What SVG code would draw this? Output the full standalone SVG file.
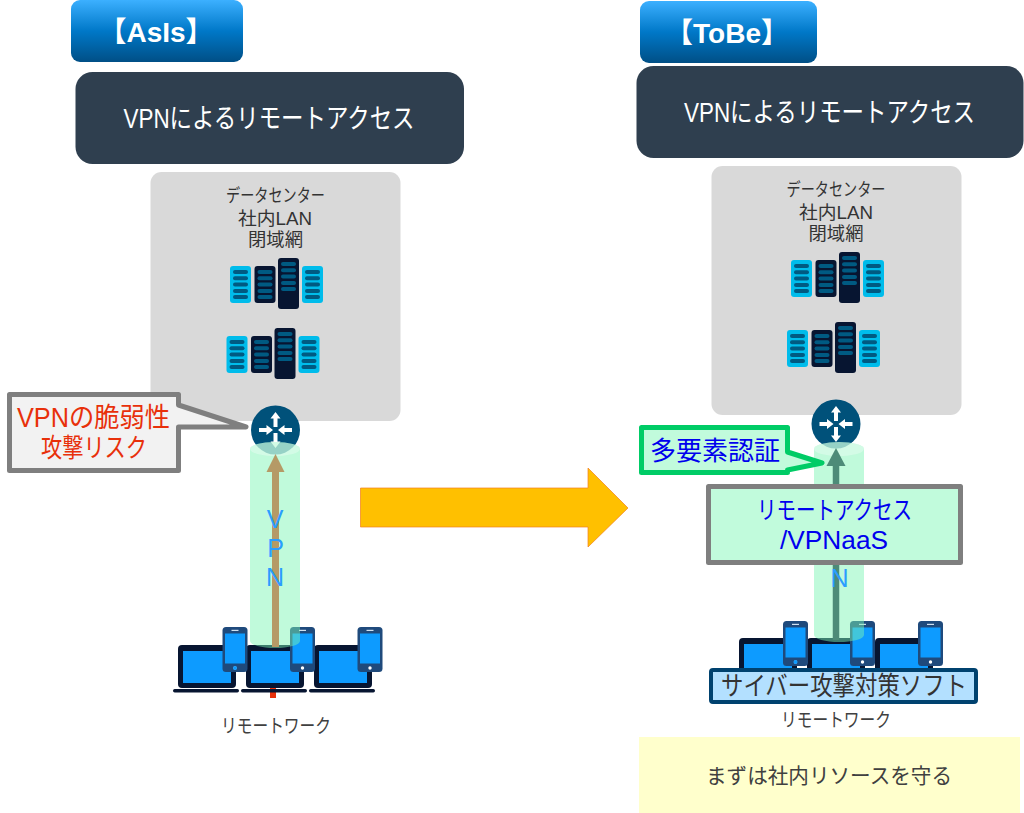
<svg xmlns="http://www.w3.org/2000/svg" width="1024" height="813" viewBox="0 0 1024 813">
<style>
text{font-family:"Liberation Sans","Noto Sans CJK JP",sans-serif;text-anchor:middle}
.hd{font-size:28px;font-weight:bold;fill:#fff}
.ti{font-size:27px;fill:#fff}
.dc{font-size:18px;fill:#333}
.rw{font-size:19px;fill:#404040}
.vl{font-size:25px;fill:#2a9dff}
.dark{fill:#2f3f4f}
.gray{fill:#d9d9d9}
.col{fill:#7cf5b4;opacity:.48}
.colt{fill:#e2fcef;opacity:.55}
.bl{fill:#0000ee}
</style>
<defs>
<linearGradient id="g" x1="0" y1="0" x2="0" y2="1"><stop offset="0" stop-color="#3cb0ff"/><stop offset=".5" stop-color="#0078c8"/><stop offset="1" stop-color="#004f86"/></linearGradient>
<g id="bars"><rect x="3" y="4" width="15" height="4" rx="2" fill="#005a82"/><rect x="3" y="10.300000000000001" width="15" height="4" rx="2" fill="#005a82"/><rect x="3" y="16.6" width="15" height="4" rx="2" fill="#005a82"/><rect x="3" y="22.9" width="15" height="4" rx="2" fill="#005a82"/><rect x="3" y="29" width="15" height="4" rx="2" fill="#005a82"/></g>
<g id="servers">
<rect x="0" y="8" width="21" height="37" rx="3" fill="#00bceb"/><use href="#bars" y="8"/>
<rect x="24.500" y="8" width="21" height="37" rx="3" fill="#071531"/><use href="#bars" x="24.500" y="8"/>
<rect x="48" y="0" width="21" height="51" rx="3" fill="#071531"/><use href="#bars" x="48"/>
<rect x="72" y="8" width="21" height="37" rx="3" fill="#00bceb"/><use href="#bars" x="72" y="8"/>
</g>
<g id="router">
<circle r="24.500" fill="#00517a"/>
<g fill="#fff" stroke="none">
<path d="M0-18l5 6.500h-3v8.500h-4v-8.500h-3z"/>
<path d="M0 18l5-6.500h-3v-8.500h-4v8.500h-3z"/>
<path d="M-2.500 0l-6.500-5v3h-7.500v4h7.500v3z"/>
<path d="M2.500 0l6.500-5v3h7.500v4h-7.500v3z"/>
</g>
</g>
<g id="laptop">
<rect x="0" y="0" width="58" height="43" rx="4" fill="#071531"/>
<rect x="5" y="6" width="48" height="32" fill="#0d9bff"/>
<rect x="-5" y="44" width="66" height="3.500" rx="1.700" fill="#071531"/>
</g>
<g id="phone">
<rect x="0" y="0" width="25" height="45" rx="3.500" fill="#1f4a7c"/>
<rect x="2.500" y="6.500" width="20" height="30" fill="#0d9bff"/>
<rect x="9" y="2.800" width="7" height="1.200" fill="#cfe0f0"/>
<circle cx="12.500" cy="41" r="1.700" fill="#fff"/>
</g>
</defs>

<g id="asis-header"><rect x="71" y="0" width="172" height="62" rx="9" fill="url(#g)"/><text class="hd" x="156" y="42">【AsIs】</text></g>
<g id="asis-title"><rect x="75.500" y="72" width="388.500" height="92" rx="17" class="dark"/><text class="ti" transform="translate(269 128) scale(.831 1)">VPNによるリモートアクセス</text></g>
<g id="asis-dc"><rect x="150.500" y="172" width="250" height="249" rx="11" class="gray"/>
<text class="dc" x="275.500" y="202" textLength="99" lengthAdjust="spacingAndGlyphs">データセンター</text><text class="dc" x="275" y="225" textLength="74" lengthAdjust="spacingAndGlyphs">社内LAN</text><text class="dc" x="275.500" y="246" textLength="55" lengthAdjust="spacingAndGlyphs">閉域網</text>
<use href="#servers" x="230" y="258"/><use href="#servers" x="226.500" y="328"/></g>
<g id="tobe-dc"><rect x="711.500" y="166" width="250" height="249" rx="11" class="gray"/>
<text class="dc" x="836" y="196" textLength="99" lengthAdjust="spacingAndGlyphs">データセンター</text><text class="dc" x="836" y="219" textLength="74" lengthAdjust="spacingAndGlyphs">社内LAN</text><text class="dc" x="836" y="240" textLength="55" lengthAdjust="spacingAndGlyphs">閉域網</text>
<use href="#servers" x="791" y="252"/><use href="#servers" x="787" y="322"/></g>
<g id="asis-devices">
<rect x="270" y="688" width="6" height="10" fill="#e8300a"/>
<use href="#laptop" x="178" y="645"/><use href="#laptop" x="246" y="645"/><use href="#laptop" x="314" y="645"/>
<use href="#phone" x="222.500" y="627"/><use href="#phone" x="290" y="627"/><use href="#phone" x="357.500" y="627"/>
<circle cx="235" cy="668" r="2" fill="#0d9bff"/>
</g>
<g id="asis-router"><use href="#router" x="275.500" y="430"/></g>
<g id="tobe-router"><use href="#router" x="836" y="424"/></g>
<g id="tobe-devices">
<use href="#laptop" x="739" y="638"/><use href="#laptop" x="807" y="638"/><use href="#laptop" x="875" y="638"/>
<use href="#phone" x="783" y="621"/><use href="#phone" x="850" y="621"/><use href="#phone" x="918" y="621"/>
<circle cx="795.500" cy="662" r="2" fill="#0d9bff"/>
</g>
<g id="connectors">
<path class="col" d="M250 449a25 7 0 0 1 50 0V641a25 7 0 0 1-50 0z"/>
<ellipse class="colt" cx="275" cy="449" rx="25" ry="7"/>
<path d="M275.500 647V470" stroke="#b59a66" stroke-width="7" fill="none"/>
<path d="M275.500 454l9 18h-18z" fill="#b59a66"/>
<path class="col" d="M814 449a25 7 0 0 1 50 0V635a25 7 0 0 1-50 0z"/>
<ellipse class="colt" cx="839" cy="449" rx="25" ry="7"/>
<path d="M836 640V464" stroke="#4d8b78" stroke-width="6.500" fill="none"/>
<path d="M836 448l9.500 18h-19z" fill="#4d8b78"/>
</g>
<g id="vpn-label"><text class="vl" x="275" y="528">V</text><text class="vl" x="275.500" y="557">P</text><text class="vl" x="275" y="586">N</text></g>
<g id="asis-risk">
<path d="M9.500 394.500H178.500V405L246 427H178.500V470.500H9.500z" fill="#f2f2f2" stroke="#7f7f7f" stroke-width="5" stroke-linejoin="round"/>
<text x="93.500" y="427" font-size="27" fill="#e8300a" textLength="153" lengthAdjust="spacingAndGlyphs">VPNの脆弱性</text><text x="94" y="457" font-size="26" fill="#e8300a" textLength="106" lengthAdjust="spacingAndGlyphs">攻撃リスク</text>
</g>
<text class="rw" x="276" y="733" textLength="110" lengthAdjust="spacingAndGlyphs" id="asis-remote">リモートワーク</text>

<g id="arrow"><path d="M360.500 488H588V468L628 508L588 547V527H360.500z" fill="#ffc000" stroke="#f08020" stroke-width=".7"/></g>

<g id="tobe-header"><rect x="640" y="1" width="177" height="62" rx="9" fill="url(#g)"/><text class="hd" x="727" y="43">【ToBe】</text></g>
<g id="tobe-title"><rect x="636.500" y="66" width="387" height="92" rx="17" class="dark"/><text class="ti" transform="translate(829.500 122) scale(.831 1)">VPNによるリモートアクセス</text></g>
<g id="tobe-mfa">
<path d="M641.500 427.500H787.500V452L822 463L787.500 470V472.500H641.500z" fill="#c1fbdc" stroke="#00cc66" stroke-width="5" stroke-linejoin="round"/>
<text x="715" y="460" font-size="26" class="bl" textLength="130" lengthAdjust="spacingAndGlyphs">多要素認証</text>
</g>
<g id="tobe-vpnaas">
<rect x="708.500" y="486.500" width="252" height="76" fill="#c1fbdc" stroke="#7f7f7f" stroke-width="5" stroke-linejoin="round"/>
<text x="834.500" y="519" font-size="25" class="bl" textLength="155" lengthAdjust="spacingAndGlyphs">リモートアクセス</text><text x="834" y="549" font-size="25" class="bl" textLength="108" lengthAdjust="spacingAndGlyphs">/VPNaaS</text>
</g>
<text class="vl" x="839.500" y="587" id="tobe-n">N</text>
<g id="tobe-soft">
<rect x="711" y="670" width="265" height="32" fill="#b3e0ff" stroke="#00426f" stroke-width="4" rx="2"/>
<text x="844" y="695" font-size="26" fill="#333" textLength="246" lengthAdjust="spacingAndGlyphs">サイバー攻撃対策ソフト</text>
</g>
<text class="rw" x="836" y="727" textLength="110" lengthAdjust="spacingAndGlyphs" id="tobe-remote">リモートワーク</text>
<g id="tobe-note"><rect x="639" y="737" width="381" height="76" fill="#ffffcc"/><text x="829" y="783" font-size="21" fill="#404040" textLength="246" lengthAdjust="spacingAndGlyphs">まずは社内リソースを守る</text></g>
</svg>
